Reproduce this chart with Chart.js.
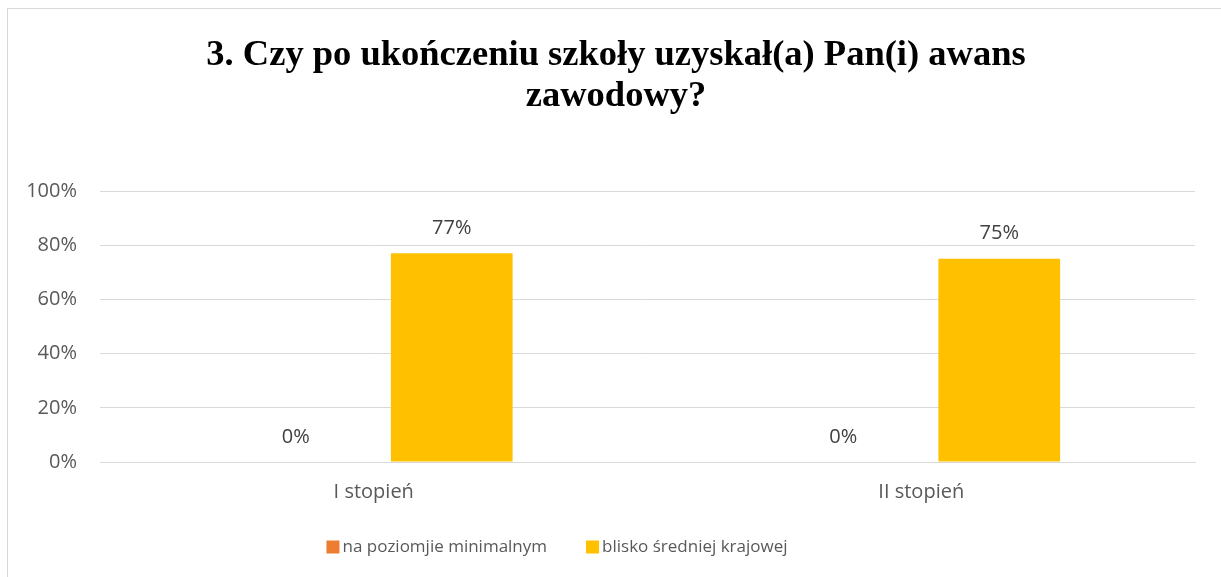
<!DOCTYPE html>
<html><head><meta charset="utf-8">
<script src="https://cdn.jsdelivr.net/npm/chart.js@4"></script>
<style>
html,body{margin:0;padding:0;background:#fff;overflow:hidden;}
#frame{position:absolute;left:7px;top:8px;width:1240px;height:600px;border:1px solid #d9d9d9;box-sizing:border-box;}
#wrap{position:absolute;left:0;top:0;width:1221px;height:577px;}
</style></head>
<body>
<div id="frame"></div>
<div id="wrap"><canvas id="c" width="1221" height="577"></canvas></div>
<script>
const titleLines = ["3. Czy po ukończeniu szkoły uzyskał(a) Pan(i) awans", "zawodowy?"];
const categories = ["I stopień", "II stopień"];
const seriesNames = ["na poziomjie minimalnym", "blisko średniej krajowej"];
const seriesColors = ["#ED7D31", "#FFC000"];
const seriesMinimal = [0, 0];
const seriesAverage = [77, 75];
const yTicks = [0, 20, 40, 60, 80, 100];

const dataLabels = {
  id: 'dataLabels',
  afterDatasetsDraw(chart) {
    const ctx = chart.ctx;
    ctx.save();
    ctx.font = '20px "Open Sans"';
    ctx.fillStyle = '#404040';
    ctx.textAlign = 'center';
    ctx.textBaseline = 'middle';
    chart.data.datasets.forEach((ds, i) => {
      chart.getDatasetMeta(i).data.forEach((bar, j) => {
        ctx.fillText(ds.data[j] + '%', bar.x, bar.y - 25);
      });
    });
    ctx.restore();
  }
};

const titleAndLegend = {
  id: 'titleAndLegend',
  afterDraw(chart) {
    const ctx = chart.ctx;
    ctx.save();
    // title
    ctx.font = 'bold 36.5px "Liberation Serif"';
    ctx.fillStyle = '#000';
    ctx.textAlign = 'center';
    ctx.textBaseline = 'alphabetic';
    ctx.fillText(titleLines[0], 616, 65);
    ctx.fillText(titleLines[1], 616, 106);
    // legend
    ctx.font = '17px "Open Sans"';
    ctx.textAlign = 'left';
    ctx.textBaseline = 'middle';
    const w = chart.data.datasets.map(d => ctx.measureText(d.label).width);
    const total = 16 + w[0] + 39 + 16 + w[1];
    let x = 557 - total / 2;
    const y = 547;
    chart.data.datasets.forEach((d, i) => {
      ctx.fillStyle = d.backgroundColor;
      ctx.fillRect(x, y - 6.5, 13, 13);
      ctx.fillStyle = '#595959';
      ctx.fillText(d.label, x + 16, y);
      x += 16 + w[i] + 39;
    });
    ctx.restore();
  }
};

new Chart(document.getElementById('c'), {
  type: 'bar',
  data: {
    labels: categories,
    datasets: [
      { label: seriesNames[0], data: seriesMinimal, backgroundColor: seriesColors[0], categoryPercentage: 0.57, barPercentage: 0.78 },
      { label: seriesNames[1], data: seriesAverage, backgroundColor: seriesColors[1], categoryPercentage: 0.57, barPercentage: 0.78 }
    ]
  },
  options: {
    responsive: false,
    animation: false,
    devicePixelRatio: 1,
    layout: { padding: { left: 0, right: 26, top: 191, bottom: 65 } },
    plugins: {
      title: { display: false },
      legend: { display: false },
      tooltip: { enabled: false }
    },
    scales: {
      x: {
        afterFit(s) { s.height = 50; },
        grid: { display: false, drawTicks: false },
        border: { display: true, color: '#d9d9d9', width: 1 },
        ticks: { font: { family: '"Open Sans"', size: 20 }, color: '#595959', padding: 18 }
      },
      y: {
        min: 0, max: 100,
        afterFit(s) { s.width = 100; },
        afterBuildTicks(s) { s.ticks = yTicks.map(v => ({ value: v })); },
        grid: { color: '#d9d9d9', lineWidth: 1, drawTicks: false },
        border: { display: false },
        ticks: { font: { family: '"Open Sans"', size: 20 }, color: '#595959', padding: 23, callback: v => v + '%' }
      }
    }
  },
  plugins: [dataLabels, titleAndLegend]
});
</script>
</body></html>
